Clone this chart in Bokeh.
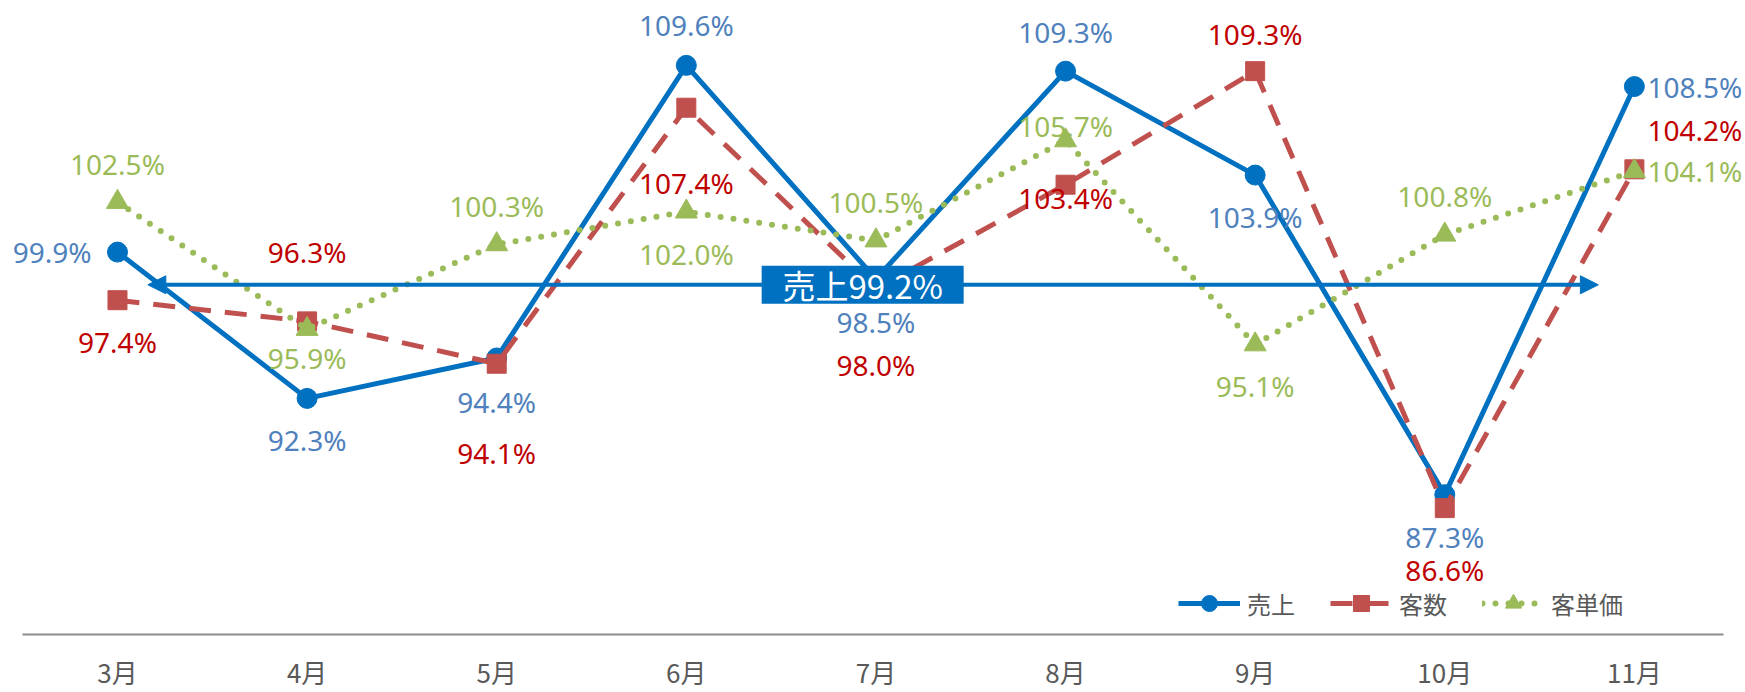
from bokeh.plotting import figure
from bokeh.models import FixedTicker, Arrow, NormalHead, Label, ColumnDataSource, Range1d
from bokeh.core.properties import value
from bokeh.embed import file_html
from bokeh.resources import INLINE

# ---- data ----
months = ["3月", "4月", "5月", "6月", "7月", "8月", "9月", "10月", "11月"]
sales = [99.9, 92.3, 94.4, 109.6, 98.5, 109.3, 103.9, 87.3, 108.5]
customers = [97.4, 96.3, 94.1, 107.4, 98.0, 103.4, 109.3, 86.6, 104.2]
unit_price = [102.5, 95.9, 100.3, 102.0, 100.5, 105.7, 95.1, 100.8, 104.1]
sales_avg = 99.2

# ---- label placement (styling) ----
sales_dx = [-26, 0, 0, 0, 0, 0, 0, 0, 13]
sales_dy = [0, 42, 44, -40, 43, -39, 42, 42, 0]
sales_al = ["right"] + ["center"] * 7 + ["left"]
cust_dx = [0] * 8 + [13]
cust_dy = [42, -69, 89, 75, 76, 13, -37, 62, -39]
cust_al = ["center"] * 8 + ["left"]
price_dx = [0] * 8 + [13]
price_dy = [-38, 29, -38, 42, -39, -14, 42, -39, 0]
price_al = ["center"] * 8 + ["left"]

BLUE = "#0070C0"
RED = "#C0504D"
GREEN = "#9BBB59"
BLUE_TXT = "#4F81BD"
RED_TXT = "#C00000"
GREEN_TXT = "#9BBB59"
GRAY = "#595959"
NUM_FONT = "Noto Sans"
JP_FONT = "Noto Sans CJK JP"

xs = list(range(len(months)))

FRAME_H = 636
p = figure(width=1745, height=692, output_backend="svg", toolbar_location=None,
           x_range=Range1d(-0.617, 8.586), y_range=Range1d(112.97 - FRAME_H / 19.31, 112.97),
           min_border_left=0, min_border_right=0, min_border_top=0, min_border_bottom=692 - FRAME_H)
p.outline_line_color = None
p.xgrid.visible = False
p.ygrid.visible = False
p.yaxis.visible = False
p.background_fill_color = "white"
p.border_fill_color = "white"

ax = p.xaxis[0]
ax.ticker = FixedTicker(ticks=xs)
ax.bounds = (-0.5, 8.47)
ax.major_label_overrides = {i: m for i, m in enumerate(months)}
ax.major_tick_line_color = None
ax.minor_tick_line_color = None
ax.major_tick_out = 0
ax.major_tick_in = 0
ax.minor_tick_out = 0
ax.minor_tick_in = 0
ax.axis_line_color = "#8C8C8C"
ax.axis_line_width = 2
ax.major_label_text_font = JP_FONT
ax.major_label_text_font_size = "26px"
ax.major_label_text_color = GRAY
ax.major_label_standoff = 18

def series(vals, dx, dy, al):
    return ColumnDataSource(dict(x=xs, y=vals, t=[f"{v:.1f}%" for v in vals], dx=dx, dy=dy, al=al))

s_src = series(sales, sales_dx, sales_dy, sales_al)
c_src = series(customers, cust_dx, cust_dy, cust_al)
u_src = series(unit_price, price_dx, price_dy, price_al)

# sales
p.line("x", "y", source=s_src, line_color=BLUE, line_width=5, legend_label="売上")
p.scatter("x", "y", source=s_src, marker="circle", size=20, fill_color=BLUE, line_color=BLUE, legend_label="売上")
# customers
p.line("x", "y", source=c_src, line_color=RED, line_width=5, line_dash="22 14", legend_label="客数")
p.scatter("x", "y", source=c_src, marker="square", size=19, fill_color=RED, line_color=RED, legend_label="客数")
# unit price
p.line("x", "y", source=u_src, line_color=GREEN, line_width=6, line_dash="0 13", line_cap="round", legend_label="客単価")
p.scatter("x", "y", source=u_src, marker="triangle", size=22, fill_color=GREEN, line_color=GREEN, legend_label="客単価")

for src, col in ((s_src, BLUE_TXT), (c_src, RED_TXT), (u_src, GREEN_TXT)):
    p.text("x", "y", text="t", source=src, x_offset="dx", y_offset="dy", text_align="al",
           text_baseline="middle", text_font=value(NUM_FONT), text_font_size="28px", text_color=col)

# average arrow + label
arrow_y = 98.2
label_x = 3.93
p.add_layout(Arrow(x_start=0.16, x_end=7.81, y_start=arrow_y, y_end=arrow_y,
                   line_color=BLUE, line_width=4,
                   start=NormalHead(size=18, fill_color=BLUE, line_color=BLUE),
                   end=NormalHead(size=18, fill_color=BLUE, line_color=BLUE)))
p.rect(x=[label_x], y=[arrow_y], width=202, height=38, width_units="screen", height_units="screen",
       fill_color=BLUE, line_color=None, level="overlay")
p.add_layout(Label(x=label_x, y=arrow_y, text=f"売上{sales_avg}%", text_align="center", text_baseline="middle",
                   text_font=JP_FONT, text_font_size="33px", text_color="white", level="overlay"))

lg = p.legend[0]
lg.orientation = "horizontal"
lg.location = (1178, 11)
lg.border_line_color = None
lg.background_fill_alpha = 0
lg.padding = 0
lg.margin = 0
lg.spacing = 35
lg.glyph_width = 62
lg.glyph_height = 40
lg.label_height = 24
lg.label_standoff = 7
lg.label_text_font = JP_FONT
lg.label_text_font_size = "24px"
lg.label_text_color = GRAY

open("out.html", "w").write(file_html(p, INLINE))
